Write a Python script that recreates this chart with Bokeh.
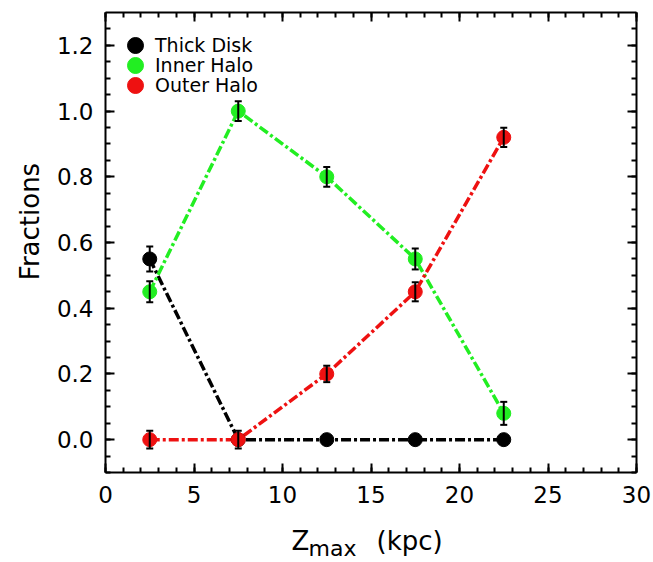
import math
from bokeh.plotting import figure
from bokeh.models import (Range1d, LinearAxis, SingleIntervalTicker, PrintfTickFormatter,
                          Whisker, TeeHead, ColumnDataSource, Legend, LegendItem, Label)
from bokeh.embed import file_html
from bokeh.resources import INLINE

# ---- data ----
zmax = [2.5, 7.5, 12.5, 17.5, 22.5]
thick_disk = [0.55, 0.0, 0.0, 0.0, 0.0]
inner_halo = [0.45, 1.0, 0.80, 0.55, 0.08]
outer_halo = [0.0, 0.0, 0.20, 0.45, 0.92]
thick_disk_err = [0.038, 0.0, 0.0, 0.0, 0.0]
inner_halo_err = [0.032, 0.03, 0.03, 0.032, 0.035]
outer_halo_err = [0.027, 0.027, 0.025, 0.029, 0.029]
series_names = ["Thick Disk", "Inner Halo", "Outer Halo"]
series_colors = ["black", "#22ee22", "#ee1111"]
x_ticks_interval = 5
y_ticks_interval = 0.2

FONT = "DejaVu Sans"

# ---- layout (pixels within the canvas) ----
W, H = 653, 562
BOX_L, BOX_R, BOX_T, BOX_B = 105, 636, 12, 472   # visible axes box
X0, X1 = 0.0, 30.0
Y0, Y1 = -0.1, 1.3
sx = (BOX_R - BOX_L) / (X1 - X0)
sy = (BOX_B - BOX_T) / (Y1 - Y0)
xr = Range1d(X0 - BOX_L / sx, X1 + (W - BOX_R) / sx)
yr = Range1d(Y0 - (H - BOX_B) / sy, Y1 + BOX_T / sy)

p = figure(width=W, height=H, output_backend="svg", toolbar_location=None,
           x_range=xr, y_range=yr, x_axis_location=None, y_axis_location=None,
           min_border=0, min_border_left=0, min_border_right=0,
           min_border_top=0, min_border_bottom=0)
p.xgrid.visible = False
p.ygrid.visible = False
p.outline_line_color = None
p.background_fill_color = "white"
p.border_fill_color = "white"


def make_axis(ticker, loc, bounds, labels=True, formatter=None):
    kw = dict(ticker=ticker, fixed_location=loc, bounds=bounds)
    if not labels:
        formatter = PrintfTickFormatter(format="")
    if formatter is not None:
        kw["formatter"] = formatter
    ax = LinearAxis(**kw)
    ax.axis_line_width = 2
    ax.major_tick_line_width = 2
    ax.minor_tick_line_width = 2
    ax.major_tick_in = 9
    ax.major_tick_out = 0
    ax.minor_tick_in = 5
    ax.minor_tick_out = 0
    ax.major_label_text_font = FONT
    ax.major_label_text_font_size = "23px"
    ax.major_label_text_color = "black"
    if not labels:
        ax.major_label_standoff = 0
    return ax


xt = SingleIntervalTicker(interval=x_ticks_interval, num_minor_ticks=5)
yt = SingleIntervalTicker(interval=y_ticks_interval, num_minor_ticks=4)

xb = make_axis(xt, Y0, (X0, X1))
xb.major_label_standoff = 13
p.add_layout(xb, "below")
xa = make_axis(xt, Y1, (X0, X1), labels=False)
p.add_layout(xa, "above")
yl = make_axis(yt, X0, (Y0, Y1), formatter=PrintfTickFormatter(format="%.1f"))
yl.major_label_standoff = 12
p.add_layout(yl, "left")
yrax = make_axis(yt, X1, (Y0, Y1), labels=False)
p.add_layout(yrax, "right")

series = [thick_disk, inner_halo, outer_halo]
errs = [thick_disk_err, inner_halo_err, outer_halo_err]

for vals, col in zip(series, series_colors):
    p.line(zmax, vals, line_color=col, line_width=3.5, line_dash="10 3 3 3")

scatter_rs = []
for vals, col in zip(series, series_colors):
    r = p.scatter(zmax, vals, size=14, fill_color=col, line_color=col)
    scatter_rs.append(r)

for vals, err in zip(series, errs):
    xs = [x for x, e in zip(zmax, err) if e > 0]
    lo = [v - e for v, e in zip(vals, err) if e > 0]
    hi = [v + e for v, e in zip(vals, err) if e > 0]
    src = ColumnDataSource(dict(base=xs, lower=lo, upper=hi))
    w = Whisker(source=src, base="base", lower="lower", upper="upper", dimension="height",
                line_color="black", line_width=2, level="overlay",
                upper_head=TeeHead(size=7, line_width=2, line_color="black"),
                lower_head=TeeHead(size=7, line_width=2, line_color="black"))
    p.add_layout(w)

# legend: one single-item legend per row (rows 20px apart, big markers)
for i, (n, r) in enumerate(zip(series_names, scatter_rs)):
    lg = Legend(items=[LegendItem(label=n, renderers=[r])],
                location=(115, H - (65 + 20 * i)), margin=0, padding=0,
                glyph_width=40, glyph_height=40, label_height=40, spacing=0,
                label_standoff=-9, label_text_font=FONT, label_text_font_size="19px",
                label_text_color="black",
                background_fill_alpha=0, border_line_color=None)
    p.add_layout(lg)

# axis titles
p.add_layout(Label(x=29, y=H - 221, x_units="screen", y_units="screen", text="Fractions",
                   angle=math.pi / 2, text_font=FONT, text_font_size="26px",
                   text_align="center", text_baseline="alphabetic", text_color="black"))
p.add_layout(Label(x=291, y=H - 540, x_units="screen", y_units="screen", text="Z",
                   text_font=FONT, text_font_size="26px", text_align="left",
                   text_baseline="alphabetic", text_color="black"))
p.add_layout(Label(x=308, y=H - 548, x_units="screen", y_units="screen", text="max",
                   text_font=FONT, text_font_size="22px", text_align="left",
                   text_baseline="alphabetic", text_color="black"))
p.add_layout(Label(x=376, y=H - 540, x_units="screen", y_units="screen", text="(kpc)",
                   text_font=FONT, text_font_size="26px", text_align="left",
                   text_baseline="alphabetic", text_color="black"))

open("out.html", "w").write(file_html(p, INLINE))
